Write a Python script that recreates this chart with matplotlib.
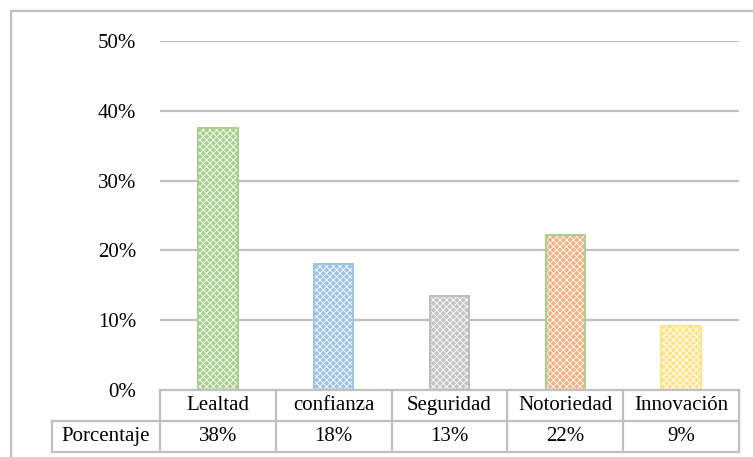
import matplotlib.pyplot as plt
from matplotlib.patches import Rectangle
from matplotlib.lines import Line2D

categories = ["Lealtad", "confianza", "Seguridad", "Notoriedad", "Innovación"]
porcentaje = [37.6, 18.1, 13.4, 22.2, 9.2]
row_label = "Porcentaje"
y_ticks = [0, 10, 20, 30, 40, 50]

fill_colors = ["#A9D18E", "#9DC3E6", "#C4C4C4", "#F4B183", "#FFE38A"]
edge_colors = ["#A9D18E", "#9DC3E6", "#BDBDBD", "#A9D18E", "#FFE38A"]
grid_color = "#BFBFBF"
font = "Liberation Serif"
fs = 15

W, H = 753, 457
fig = plt.figure(figsize=(W / 100, H / 100), dpi=100)
plt.rcParams["hatch.linewidth"] = 0.6


def fx(px):
    return px / W


def fy(py):
    return 1 - py / H


# chart area
x0, x1 = 160, 739
y_zero, y_top = 390, 41
ax = fig.add_axes([fx(x0), fy(y_zero), fx(x1) - fx(x0), fy(y_top) - fy(y_zero)])
n = len(categories)
ax.set_xlim(-0.5, n - 0.5)
ax.set_ylim(0, 50)
for s in ax.spines.values():
    s.set_visible(False)
ax.set_yticks(y_ticks)
ax.set_yticklabels([f"{t}%" for t in y_ticks], fontfamily=font, fontsize=fs)
ax.tick_params(axis="y", length=0, pad=17)
ax.set_xticks([])
for t in y_ticks[1:]:
    ax.axhline(t, color=grid_color, lw=1.6, zorder=0)

xs = list(range(n))
ax.bar(xs, porcentaje, width=0.34, color=fill_colors, edgecolor=edge_colors,
       linewidth=1.4, zorder=2)
ax.bar(xs, porcentaje, width=0.34, facecolor="none", edgecolor="white",
       hatch="xxxxx", linewidth=0, zorder=3)
ax.bar(xs, porcentaje, width=0.34, facecolor="none", edgecolor=edge_colors,
       linewidth=1.4, zorder=4)

# data table below the chart
tx0 = 52
col_w = (x1 - x0) / n
label_w = (x0 - tx0) / col_w
r0, r1, r2 = 390, 421, 452
tab = fig.add_axes([fx(tx0), fy(r2), fx(x1) - fx(tx0), fy(r0) - fy(r2)])
tab.set_xlim(-0.5 - label_w, n - 0.5)
tab.set_ylim(r2, r0)
tab.axis("off")
lkw = dict(color=grid_color, lw=1.6, clip_on=False)
tab.add_line(Line2D([-0.5, n - 0.5], [r0, r0], **lkw))
tab.add_line(Line2D([-0.5 - label_w, n - 0.5], [r1, r1], **lkw))
tab.add_line(Line2D([-0.5 - label_w, n - 0.5], [r2, r2], **lkw))
tab.add_line(Line2D([-0.5 - label_w] * 2, [r1, r2], **lkw))
for i in range(n + 1):
    tab.add_line(Line2D([i - 0.5] * 2, [r0, r2], **lkw))
tab.text(-0.5 - label_w / 2, (r1 + r2) / 2, row_label, ha="center", va="center",
         fontfamily=font, fontsize=fs)
for i, (c, v) in enumerate(zip(categories, porcentaje)):
    tab.text(i, (r0 + r1) / 2, c, ha="center", va="center", fontfamily=font, fontsize=fs)
    tab.text(i, (r1 + r2) / 2, f"{v:.0f}%", ha="center", va="center",
             fontfamily=font, fontsize=fs)

# outer frame
fig.patches.append(Rectangle((fx(11), fy(470)), fx(760) - fx(11), fy(11) - fy(470),
                             transform=fig.transFigure, fill=False,
                             edgecolor=grid_color, lw=1.6))

fig.savefig("out.png", dpi=100)
